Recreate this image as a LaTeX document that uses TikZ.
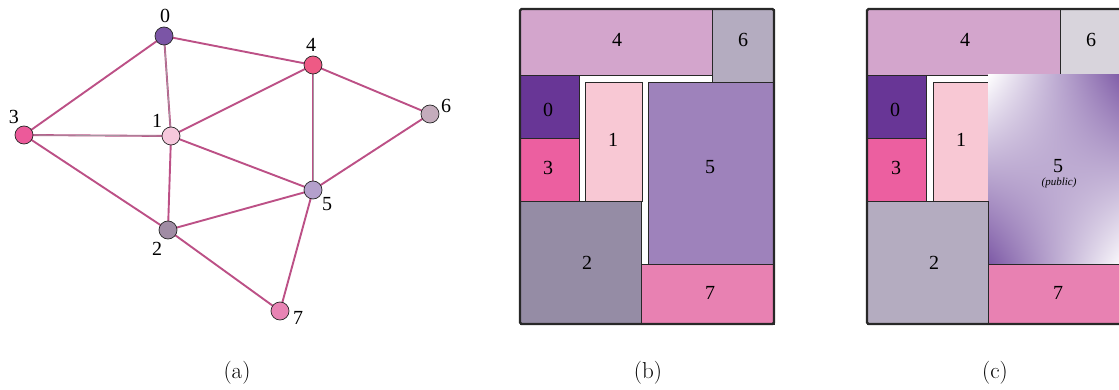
\documentclass[tikz,border=0pt]{standalone}
\usepackage{fontspec}
\newfontfamily\labfont{Liberation Serif}
\pgfdeclarefunctionalshading{saddle}{\pgfpoint{-50bp}{-50bp}}{\pgfpoint{50bp}{50bp}}{}{
  mul 1250 div 0.5 add
  dup 0 lt {pop 0} if
  dup 1 gt {pop 1} if
  dup 0.514 mul 1 exch sub exch
  dup 0.655 mul 1 exch sub exch
  0.353 mul 1 exch sub
}
\definecolor{cA0}{RGB}{123,85,166}
\definecolor{cA1}{RGB}{246,200,220}
\definecolor{cA2}{RGB}{160,140,164}
\definecolor{cA3}{RGB}{236,90,154}
\definecolor{cA4}{RGB}{238,90,133}
\definecolor{cA5}{RGB}{180,160,204}
\definecolor{cA6}{RGB}{196,172,188}
\definecolor{cA7}{RGB}{232,132,180}
\definecolor{edgec}{RGB}{188,80,134}
\definecolor{edgeg}{RGB}{165,150,160}
\definecolor{r4}{RGB}{211,165,204}
\definecolor{r6b}{RGB}{180,172,192}
\definecolor{r6c}{RGB}{216,212,220}
\definecolor{r0}{RGB}{104,54,150}
\definecolor{r3}{RGB}{236,95,160}
\definecolor{r1}{RGB}{248,200,212}
\definecolor{r5}{RGB}{158,130,187}
\definecolor{r2b}{RGB}{149,140,165}
\definecolor{r2c}{RGB}{180,172,192}
\definecolor{r7}{RGB}{232,129,178}
\definecolor{bord}{RGB}{40,40,40}
\begin{document}
\begin{tikzpicture}[x=1pt,y=-1pt,
  vert/.style={circle,draw=bord,line width=0.7pt,minimum size=18pt,inner sep=0pt},
  vlab/.style={font=\labfont\fontsize{20}{22}\selectfont,inner sep=0pt},
  conn/.style={draw=edgec,line width=1.9pt},
  gconn/.style={draw=edgec,line width=1.9pt,postaction={draw=edgeg,line width=0.8pt}},
  room/.style={draw=bord,line width=0.8pt},
  rlab/.style={font=\labfont\fontsize{20}{22}\selectfont,inner sep=0pt},
  outerframe/.style={draw=bord,line width=2.2pt,rounded corners=1.5pt},
  captext/.style={font=\fontsize{23}{26}\selectfont,inner sep=0pt}]
\useasboundingbox (0,0) rectangle (1119,390);
\clip (0,0) rectangle (1119,390);
% ---------- (a) graph ----------
\coordinate (p0) at (164,36);
\coordinate (p1) at (171,136);
\coordinate (p2) at (168,230);
\coordinate (p3) at (24,135);
\coordinate (p4) at (313,65);
\coordinate (p5) at (313,190);
\coordinate (p6) at (430,114);
\coordinate (p7) at (280,311);
\draw[conn] (p0) -- (p3);
\draw[gconn] (p0) -- (p1);
\draw[conn] (p0) -- (p4);
\draw[gconn] (p3) -- (p1);
\draw[conn] (p3) -- (p2);
\draw[conn] (p1) -- (p4);
\draw[conn] (p1) -- (p5);
\draw[conn] (p1) -- (p2);
\draw[gconn] (p4) -- (p5);
\draw[conn] (p4) -- (p6);
\draw[conn] (p6) -- (p5);
\draw[conn] (p2) -- (p5);
\draw[conn] (p2) -- (p7);
\draw[conn] (p5) -- (p7);
\node[vert,fill=cA0] (n0) at (p0) {};
\node[vert,fill=cA1] (n1) at (p1) {};
\node[vert,fill=cA2] (n2) at (p2) {};
\node[vert,fill=cA3] (n3) at (p3) {};
\node[vert,fill=cA4] (n4) at (p4) {};
\node[vert,fill=cA5] (n5) at (p5) {};
\node[vert,fill=cA6] (n6) at (p6) {};
\node[vert,fill=cA7] (n7) at (p7) {};
\node[vlab] (l0) at (165,16) {0};
\node[vlab] (l1) at (157,121) {1};
\node[vlab] (l2) at (157,249) {2};
\node[vlab] (l3) at (14,117) {3};
\node[vlab] (l4) at (311,45) {4};
\node[vlab] (l5) at (327,204) {5};
\node[vlab] (l6) at (446,106) {6};
\node[vlab] (l7) at (298,318) {7};
\node[captext] (ca) at (237,373) {(a)};
% ---------- (b) ----------
\draw[room,fill=r4] (520,9) rectangle (712,75);
\draw[room,fill=r6b] (712,9) rectangle (774,82);
\draw[room,fill=r0] (520,75) rectangle (579,138);
\draw[room,fill=r3] (520,138) rectangle (579,201);
\draw[room,fill=r1] (585,82) rectangle (642,201);
\draw[room,fill=r5] (648,82) rectangle (774,264);
\draw[room,fill=r2b] (520,201) rectangle (641,324);
\draw[room,fill=r7] (641,264) rectangle (774,324);
\draw[outerframe] (520,9) rectangle (774,324);
\node[rlab] (b4) at (617,40) {4};
\node[rlab] (b6) at (743,40) {6};
\node[rlab] (b0) at (548,110) {0};
\node[rlab] (b3) at (548,168) {3};
\node[rlab] (b1) at (613,140) {1};
\node[rlab] (b5) at (710,167) {5};
\node[rlab] (b2) at (587,263) {2};
\node[rlab] (b7) at (710,293) {7};
\node[captext] (cb) at (648,373) {(b)};
% ---------- (c) ----------
\draw[room,fill=r4] (867,9) rectangle (1060,75);
\draw[room,fill=r6c] (1060,9) rectangle (1125,75);
\draw[room,fill=r0] (867,75) rectangle (926,138);
\draw[room,fill=r3] (867,138) rectangle (926,201);
\draw[room,fill=r1] (933,82) rectangle (988,201);
\shade[shading=saddle] (988,75) rectangle (1125,264);
\draw[room,fill=r2c] (867,201) rectangle (988,324);
\draw[room,fill=r7] (988,264) rectangle (1125,324);
\draw[outerframe] (867,9) rectangle (1125,324);
\node[rlab] (c4) at (965,40) {4};
\node[rlab] (c6) at (1091,40) {6};
\node[rlab] (c0) at (895,110) {0};
\node[rlab] (c3) at (896,168) {3};
\node[rlab] (c1) at (961,140) {1};
\node[rlab] (c5) at (1058,166) {5};
\node[font=\labfont\itshape\fontsize{11}{13}\selectfont,inner sep=0pt] (c5p) at (1059,183) {(public)};
\node[rlab] (c2) at (934,263) {2};
\node[rlab] (c7) at (1058,293) {7};
\node[captext] (cc) at (995,373) {(c)};
\end{tikzpicture}
\end{document}
